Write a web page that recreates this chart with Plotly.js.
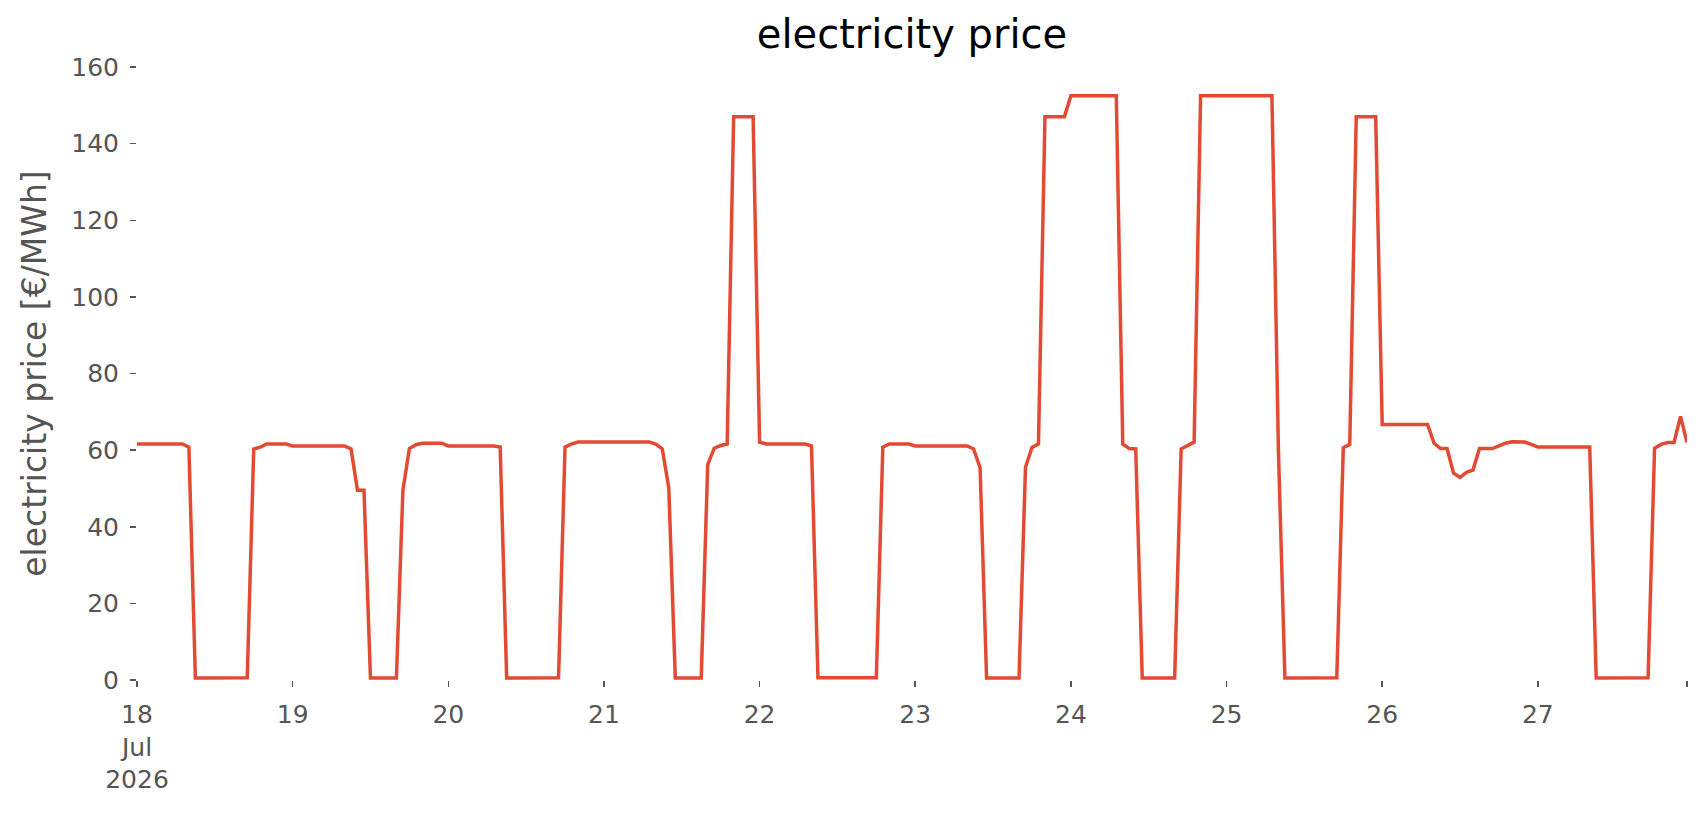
<!DOCTYPE html>
<html>
<head>
<meta charset="utf-8">
<script src="https://cdn.plot.ly/plotly-3.0.1.min.js"></script>
<style>
  body { margin: 0; background: #fff; }
  #chart { width: 1706px; height: 815px; }
</style>
</head>
<body>
<div id="chart"></div>
<script>
// hourly prices, 18 Jul 2026 00:00 .. 27 Jul 2026 23:00, one row per day
var day18 = [61.6, 61.6, 61.6, 61.6, 61.6, 61.6, 61.6, 61.6, 60.8, 0.5, 0.5, 0.5,
             0.4, 0.4, 0.4, 0.4, 0.5, 0.6, 60.3, 60.8, 61.6, 61.6, 61.6, 61.6];
var day19 = [61.1, 61.1, 61.1, 61.1, 61.1, 61.1, 61.1, 61.1, 61.1, 60.3, 49.5, 49.5,
             0.5, 0.5, 0.5, 0.5, 0.5, 49.5, 60.4, 61.4, 61.8, 61.8, 61.8, 61.8];
var day20 = [61.1, 61.1, 61.1, 61.1, 61.1, 61.1, 61.1, 61.1, 60.8, 0.5, 0.5, 0.5,
             0.4, 0.4, 0.4, 0.4, 0.5, 0.6, 60.8, 61.6, 62.1, 62.1, 62.1, 62.1];
var day21 = [62.1, 62.1, 62.1, 62.1, 62.1, 62.1, 62.1, 62.1, 61.6, 60.3, 50.1, 0.5,
             0.5, 0.5, 0.5, 0.5, 56.2, 60.5, 61.2, 61.6, 147.0, 147.0, 147.0, 147.0];
var day22 = [62.1, 61.6, 61.6, 61.6, 61.6, 61.6, 61.6, 61.6, 61.1, 0.6, 0.6, 0.6,
             0.6, 0.6, 0.6, 0.6, 0.6, 0.6, 0.6, 60.8, 61.6, 61.6, 61.6, 61.6];
var day23 = [61.1, 61.1, 61.1, 61.1, 61.1, 61.1, 61.1, 61.1, 61.1, 60.3, 55.4, 0.5,
             0.5, 0.5, 0.5, 0.5, 0.5, 55.5, 60.7, 61.6, 147.0, 147.0, 147.0, 147.0];
var day24 = [152.5, 152.5, 152.5, 152.5, 152.5, 152.5, 152.5, 152.5, 61.6, 60.4, 60.3, 0.5,
             0.5, 0.5, 0.5, 0.5, 0.5, 60.3, 61.2, 62.1, 152.5, 152.5, 152.5, 152.5];
var day25 = [152.5, 152.5, 152.5, 152.5, 152.5, 152.5, 152.5, 152.5, 60.0, 0.5, 0.5, 0.5,
             0.4, 0.4, 0.4, 0.4, 0.5, 0.6, 60.6, 61.5, 147.0, 147.0, 147.0, 147.0];
var day26 = [66.7, 66.7, 66.7, 66.7, 66.7, 66.7, 66.7, 66.7, 61.8, 60.4, 60.4, 54.0,
             52.9, 54.2, 54.8, 60.4, 60.4, 60.4, 61.1, 61.8, 62.2, 62.2, 62.1, 61.5];
var day27 = [60.8, 60.8, 60.8, 60.8, 60.8, 60.8, 60.8, 60.8, 60.8, 0.5, 0.5, 0.5,
             0.5, 0.5, 0.5, 0.5, 0.5, 0.6, 60.5, 61.5, 62.0, 62.0, 68.8, 62.0];

var prices = [].concat(day18, day19, day20, day21, day22, day23, day24, day25, day26, day27);

var startMs = Date.UTC(2026, 6, 18, 0, 0, 0);
var times = prices.map(function (_, i) {
  return new Date(startMs + i * 3600000).toISOString().slice(0, 19).replace('T', ' ');
});

var dayTicks = ['2026-07-18', '2026-07-19', '2026-07-20', '2026-07-21', '2026-07-22',
                '2026-07-23', '2026-07-24', '2026-07-25', '2026-07-26', '2026-07-27'];
var dayLabels = ['18<br>Jul<br>2026', '19', '20', '21', '22', '23', '24', '25', '26', '27'];
var yTicks = [0, 20, 40, 60, 80, 100, 120, 140, 160];

var trace = {
  x: times,
  y: prices,
  type: 'scatter',
  mode: 'lines',
  line: { color: '#E24A33', width: 3.5 },
  hoverinfo: 'x+y'
};

var gray = '#555555';
var layout = {
  width: 1706,
  height: 815,
  margin: { l: 137, r: 19, t: 67, b: 135 },
  paper_bgcolor: '#ffffff',
  plot_bgcolor: '#ffffff',
  font: { family: 'DejaVu Sans, sans-serif', color: gray, size: 25 },
  showlegend: false,
  title: {
    text: 'electricity price',
    font: { size: 40, color: '#000000' },
    x: 0.5, xref: 'paper', xanchor: 'center',
    y: 40, yref: 'container', yanchor: 'middle'
  },
  xaxis: {
    type: 'date',
    range: [times[0], times[times.length - 1]],
    tickmode: 'array',
    tickvals: dayTicks.concat([times[times.length - 1]]),
    ticktext: dayLabels.concat(['']),
    ticks: 'outside',
    ticklen: 6,
    tickwidth: 1.5,
    tickcolor: gray,
    ticklabelstandoff: 6,
    showgrid: false,
    zeroline: false,
    showline: false,
    tickfont: { size: 25, color: gray }
  },
  yaxis: {
    range: [0, 160],
    tickmode: 'array',
    tickvals: yTicks,
    ticks: 'outside',
    ticklen: 6,
    tickwidth: 1.5,
    tickcolor: gray,
    ticklabelstandoff: 6,
    showgrid: false,
    zeroline: false,
    showline: false,
    tickfont: { size: 25, color: gray },
    title: { text: 'electricity price [€/MWh]', font: { size: 33, color: gray }, standoff: 14 }
  }
};

Plotly.newPlot('chart', [trace], layout, { displayModeBar: false, staticPlot: true });
</script>
</body>
</html>
